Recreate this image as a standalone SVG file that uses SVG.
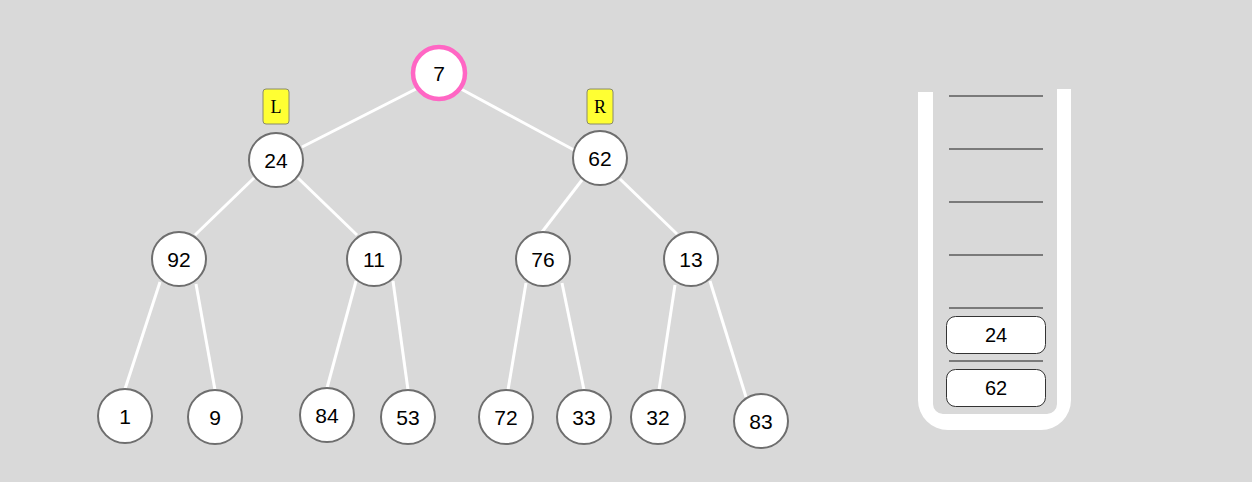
<svg xmlns="http://www.w3.org/2000/svg" width="1252" height="482" viewBox="0 0 1252 482">
<style>
.bg{fill:#d9d9d9}
.edge{stroke:#ffffff;stroke-width:3;fill:none}
.node circle{fill:#ffffff;stroke:#6e6e6e;stroke-width:2}
.node text,.item text{font-family:"Liberation Sans",Arial,sans-serif;font-size:21px;fill:#000;text-anchor:middle;dominant-baseline:central}
.item text{font-size:20px}
.tag rect{fill:#ffff33;stroke:#8a8a6a;stroke-width:1}
.tag text{font-family:"Liberation Serif","Times New Roman",serif;font-size:18px;fill:#000;text-anchor:middle;dominant-baseline:central}
.slot{stroke:#7a7a7a;stroke-width:2}
.item rect{fill:#ffffff;stroke:#333;stroke-width:1}
</style>
<rect class="bg" x="0" y="0" width="1252" height="482"/>
<g id="connectors">
<line class="edge" x1="416" y1="89" x2="302" y2="147"/>
<line class="edge" x1="461" y1="89" x2="574" y2="150"/>
<line class="edge" x1="254" y1="178" x2="195" y2="235"/>
<line class="edge" x1="298" y1="178" x2="357" y2="235"/>
<line class="edge" x1="582" y1="180" x2="542" y2="232"/>
<line class="edge" x1="620" y1="179" x2="677" y2="234"/>
<line class="edge" x1="160" y1="282" x2="125" y2="389"/>
<line class="edge" x1="196" y1="284" x2="215" y2="390"/>
<line class="edge" x1="356" y1="281" x2="327" y2="388"/>
<line class="edge" x1="393" y1="281" x2="408" y2="390"/>
<line class="edge" x1="526" y1="283" x2="508" y2="390"/>
<line class="edge" x1="562" y1="283" x2="584" y2="390"/>
<line class="edge" x1="675" y1="285" x2="659" y2="390"/>
<line class="edge" x1="710" y1="281" x2="746" y2="397"/>
</g>
<g id="tag-L" class="tag"><rect x="263" y="89" width="26" height="35" rx="3"/><text x="276" y="107">L</text></g>
<g id="tag-R" class="tag"><rect x="587" y="89" width="26" height="35" rx="3"/><text x="600" y="107">R</text></g>
<g id="n7" class="node"><circle cx="439" cy="73" r="26" style="stroke:#ff66c4;stroke-width:4.5"/><text x="439" y="73">7</text></g>
<g id="n24" class="node"><circle cx="276" cy="160" r="27"/><text x="276" y="160">24</text></g>
<g id="n62" class="node"><circle cx="600" cy="158" r="27"/><text x="600" y="158">62</text></g>
<g id="n92" class="node"><circle cx="179" cy="259" r="27"/><text x="179" y="259">92</text></g>
<g id="n11" class="node"><circle cx="374" cy="259" r="27"/><text x="374" y="259">11</text></g>
<g id="n76" class="node"><circle cx="543" cy="259" r="27"/><text x="543" y="259">76</text></g>
<g id="n13" class="node"><circle cx="691" cy="259" r="27"/><text x="691" y="259">13</text></g>
<g id="n1" class="node"><circle cx="125" cy="416" r="27"/><text x="125" y="416">1</text></g>
<g id="n9" class="node"><circle cx="215" cy="417" r="27"/><text x="215" y="417">9</text></g>
<g id="n84" class="node"><circle cx="327" cy="415" r="27"/><text x="327" y="415">84</text></g>
<g id="n53" class="node"><circle cx="408" cy="417" r="27"/><text x="408" y="417">53</text></g>
<g id="n72" class="node"><circle cx="506" cy="417" r="27"/><text x="506" y="417">72</text></g>
<g id="n33" class="node"><circle cx="584" cy="417" r="27"/><text x="584" y="417">33</text></g>
<g id="n32" class="node"><circle cx="658" cy="417" r="27"/><text x="658" y="417">32</text></g>
<g id="n83" class="node"><circle cx="761" cy="421" r="27"/><text x="761" y="421">83</text></g>
<g id="stack">
<path fill="#ffffff" d="M918,92 L918,400 A30,30 0 0 0 948,430 L1041,430 A30,30 0 0 0 1071,400 L1071,89 L1057,89 L1057,404 A10,10 0 0 1 1047,414 L943,414 A10,10 0 0 1 933,404 L933,92 Z"/>
<line class="slot" x1="949" y1="96" x2="1043" y2="96"/>
<line class="slot" x1="949" y1="149" x2="1043" y2="149"/>
<line class="slot" x1="949" y1="202" x2="1043" y2="202"/>
<line class="slot" x1="949" y1="255" x2="1043" y2="255"/>
<line class="slot" x1="949" y1="308" x2="1043" y2="308"/>
<line class="slot" x1="949" y1="361" x2="1043" y2="361"/>
</g>
<g id="item24" class="item"><rect x="946.5" y="316.5" width="99" height="37" rx="9"/><text x="996" y="335">24</text></g>
<g id="item62" class="item"><rect x="946.5" y="369.5" width="99" height="37" rx="9"/><text x="996" y="388">62</text></g>
</svg>
